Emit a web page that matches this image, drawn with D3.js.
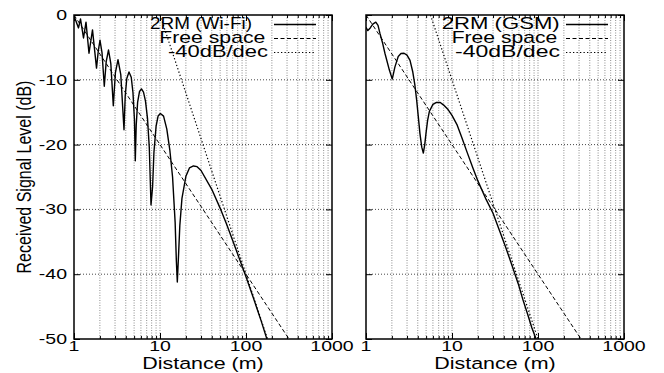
<!DOCTYPE html>
<html>
<head>
<meta charset="utf-8">
<script src="https://cdn.jsdelivr.net/npm/d3@7"></script>
<style>
  body { margin: 0; background: #fff; }
  svg { display: block; }
  text { font-family: "Liberation Sans", Arial, sans-serif; fill: #000; }
</style>
</head>
<body>
<svg width="664" height="373"></svg>
<script>
// ---- data ----
const xTickValues = [1, 10, 100, 1000];
const yTickValues = [0, -10, -20, -30, -40, -50];
const xTickLabels = ["1", "10", "100", "1000"];
const yTickLabels = ["0", "-10", "-20", "-30", "-40", "-50"];

// two-ray model, Wi-Fi
const wifiDist = [1.0, 1.128, 1.19, 1.29, 1.379, 1.494, 1.641, 1.827, 1.917, 2.006, 2.117, 2.25,
  2.368, 2.52, 2.68, 2.864, 3.03, 3.248, 3.50, 3.814, 3.94, 4.11, 4.36, 4.63, 4.85, 5.04, 5.16,
  5.29, 5.49, 5.78, 6.09, 6.43, 6.78, 7.16, 7.51, 7.86, 8.2, 8.5, 9.0, 9.5, 10.1, 11, 12, 13, 14,
  15, 15.5, 15.9, 16.5, 17, 18, 20, 22, 24.5, 27, 30, 40, 50, 60, 70, 80, 100, 120, 150, 175];
const wifiLevel = [-0.1, -2.0, -0.6, -3.55, -1.1, -5.9, -2.3, -8.2, -5.5, -3.9, -5.8, -11.0,
  -7.2, -5.4, -7.5, -14.0, -8.9, -6.9, -9.2, -17.7, -12.5, -9.8, -8.8, -9.6, -12.0, -16.0, -22.5,
  -17.0, -13.5, -11.8, -11.4, -11.9, -13.3, -16.0, -20.5, -29.3, -26.5, -21.2, -17.2, -15.6, -15.2,
  -15.6, -17.6, -20.8, -25.0, -32.0, -38.0, -41.2, -36.5, -32.5, -28.3, -24.9, -23.6, -23.3, -23.4,
  -24.0, -26.9, -29.8, -32.4, -34.8, -36.9, -40.4, -43.4, -47.2, -50];

// two-ray model, GSM
const gsmDist = [1.0, 1.05, 1.12, 1.2, 1.3, 1.38, 1.45, 1.55, 1.66, 1.87, 2.02, 2.17, 2.37, 2.55,
  2.77, 3.0, 3.25, 3.5, 3.7, 3.88, 4.05, 4.24, 4.45, 4.64, 4.82, 4.98, 5.2, 5.45, 6.0, 6.6, 7.3, 8,
  9, 10, 11.5, 13, 15, 17.5, 20, 25, 30, 36, 42, 50, 59, 67, 75, 85, 95];
const gsmLevel = [-1.9, -2.4, -2.0, -1.4, -1.1, -1.6, -2.8, -4.2, -5.9, -8.5, -9.9, -8.0, -6.4,
  -5.95, -5.9, -6.2, -7.0, -8.8, -10.8, -13.1, -15.6, -18.3, -20.4, -21.3, -20.0, -18.3, -16.3,
  -14.9, -13.8, -13.5, -13.5, -13.9, -14.6, -15.5, -17.0, -18.9, -21.2, -23.6, -25.6, -28.5, -30.6,
  -33.4, -35.8, -38.7, -41.5, -44.0, -46.0, -48.3, -50];

// free space (-20 dB/dec) and -40 dB/dec reference lines
const freeDist = [1, 316.2];
const freeLevel = [0, -50];
const wifiSlopeDist = [10, 177.8];
const wifiSlopeLevel = [0, -50];
const gsmSlopeDist = [5.62, 100];
const gsmSlopeLevel = [0, -50];

const legendNames = [["2RM (Wi-Fi)", "Free space", "-40dB/dec"],
                     ["2RM (GSM)", "Free space", "-40dB/dec"]];

// ---- layout ----
const svg = d3.select('svg');
const pw = 258, ph = 324, plotTop = 15;
const panels = [
  { left: 74, model: d3.zip(wifiDist, wifiLevel), slope: d3.zip(wifiSlopeDist, wifiSlopeLevel),
    legend: legendNames[0], legX: [150, 159.3, 168], legW: [102, 106, 100], yLabels: true },
  { left: 366, model: d3.zip(gsmDist, gsmLevel), slope: d3.zip(gsmSlopeDist, gsmSlopeLevel),
    legend: legendNames[1], legX: [441.7, 451.7, 455], legW: [118, 105.6, 105], yLabels: false }
];

const x = d3.scaleLog().domain([1, 1000]).range([0, pw]);
const y = d3.scaleLinear().domain([-50, 0]).range([ph, 0]);

const line = d3.line().x(d => x(d[0])).y(d => y(d[1]));

function addText(g, tx, ty, str, anchor, size) {
  return g.append('text')
    .attr('transform', `translate(${tx},${ty}) scale(1.3,1)`)
    .attr('text-anchor', anchor)
    .style('font-size', size + 'px')
    .text(str);
}

const minorTicks = x.ticks().filter(v => xTickValues.indexOf(v) < 0);

panels.forEach((p, i) => {
  const g = svg.append('g').attr('transform', `translate(${p.left},${plotTop})`);

  // grid
  g.append('g').selectAll('line').data(x.ticks().filter(v => v > 1 && v < 1000)).enter()
    .append('line')
    .attr('x1', d => x(d)).attr('x2', d => x(d))
    .attr('y1', 0).attr('y2', ph)
    .attr('stroke', '#808080').attr('stroke-width', 0.9)
    .attr('stroke-dasharray', '1,1.5');
  g.append('g').selectAll('line').data(yTickValues.filter(v => v > -50 && v < 0)).enter()
    .append('line')
    .attr('x1', 0).attr('x2', pw)
    .attr('y1', d => y(d)).attr('y2', d => y(d))
    .attr('stroke', '#333').attr('stroke-width', 0.9)
    .attr('stroke-dasharray', '1,2');

  // tick marks (inward) on all four sides
  const ax = [
    g.append('g').attr('transform', `translate(0,${ph})`).call(d3.axisBottom(x).tickValues(xTickValues).tickSize(-6).tickFormat('')),
    g.append('g').attr('transform', `translate(0,${ph})`).call(d3.axisBottom(x).tickValues(minorTicks).tickSize(-3).tickFormat('')),
    g.append('g').call(d3.axisTop(x).tickValues(xTickValues).tickSize(-6).tickFormat('')),
    g.append('g').call(d3.axisTop(x).tickValues(minorTicks).tickSize(-3).tickFormat('')),
    g.append('g').call(d3.axisLeft(y).tickValues(yTickValues).tickSize(-6).tickFormat('')),
    g.append('g').attr('transform', `translate(${pw},0)`).call(d3.axisRight(y).tickValues(yTickValues).tickSize(-6).tickFormat(''))
  ];
  ax.forEach(a => {
    a.select('.domain').remove();
    a.selectAll('.tick line').attr('stroke', '#000').attr('stroke-width', 1);
  });

  // clipped curves
  g.append('clipPath').attr('id', 'clip' + i)
    .append('rect').attr('width', pw).attr('height', ph);
  const c = g.append('g').attr('clip-path', `url(#clip${i})`);

  c.append('path').datum(d3.zip(freeDist, freeLevel)).attr('d', line)
    .attr('fill', 'none').attr('stroke', '#000').attr('stroke-width', 1)
    .attr('stroke-dasharray', '4,2.5');
  c.append('path').datum(p.slope).attr('d', line)
    .attr('fill', 'none').attr('stroke', '#000').attr('stroke-width', 1.2)
    .attr('stroke-dasharray', '1.3,2.2');
  c.append('path').datum(p.model).attr('d', line)
    .attr('fill', 'none').attr('stroke', '#000').attr('stroke-width', 1.4)
    .attr('stroke-linejoin', 'round');

  // border
  g.append('rect').attr('width', pw).attr('height', ph)
    .attr('fill', 'none').attr('stroke', '#000').attr('stroke-width', 1.5);

  // x tick labels
  xTickValues.forEach((v, k) => addText(g, x(v), ph + 12, xTickLabels[k], 'middle', 15));
  // y tick labels
  if (p.yLabels) {
    yTickValues.forEach((v, k) => addText(g, -7, y(v) + 5, yTickLabels[k], 'end', 15));
  }
  // x axis title
  addText(g, pw / 2, ph + 30, 'Distance (m)', 'middle', 16.5);

  // legend
  const dashes = [null, '4,2.5', '1.3,2.2'];
  const rows = [28.5, 42.5, 56.5];
  p.legend.forEach((name, k) => {
    svg.append('text')
      .attr('transform', `translate(${p.legX[k]},${rows[k]}) scale(1.3,1)`)
      .attr('textLength', p.legW[k] / 1.3)
      .attr('lengthAdjust', 'spacingAndGlyphs')
      .style('font-size', '16px')
      .text(name);
    svg.append('line')
      .attr('x1', p.left + 200).attr('x2', p.left + 242)
      .attr('y1', rows[k] - 4).attr('y2', rows[k] - 4)
      .attr('stroke', '#000').attr('stroke-width', k === 0 ? 1.3 : 1.1)
      .attr('stroke-dasharray', dashes[k]);
  });
});

// y axis title
svg.append('text')
  .attr('transform', 'translate(31,177) scale(1.3,1) rotate(-90)')
  .attr('text-anchor', 'middle')
  .style('font-size', '16px')
  .text('Received Signal Level (dB)');
</script>
</body>
</html>
